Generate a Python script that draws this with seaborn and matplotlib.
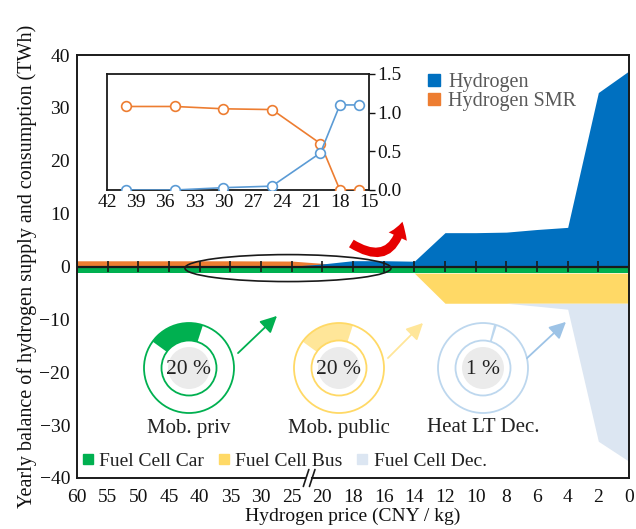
import numpy as np
import pandas as pd
import matplotlib
matplotlib.use("Agg")
import matplotlib.pyplot as plt
import seaborn as sns
from matplotlib.patches import Wedge, Circle, Ellipse, FancyArrowPatch
from matplotlib.lines import Line2D
import matplotlib.transforms as mtransforms

# ---------------- data ----------------
price_labels = ["60", "55", "50", "45", "40", "35", "30", "25", "20", "18",
                "16", "14", "12", "10", "8", "6", "4", "2", "0"]
hydrogen     = [0.0, 0.0, 0.0, 0.0, 0.0, 0.0, 0.03, 0.05, 0.48, 1.1,
                1.1, 1.0, 6.4, 6.4, 6.5, 7.0, 7.4, 32.9, 37.0]
hydrogen_smr = [1.08, 1.08, 1.08, 1.08, 1.08, 1.08, 1.05, 1.03, 0.6, 0.0,
                0.0, 0.0, 0.0, 0.0, 0.0, 0.0, 0.0, 0.0, 0.0]
fc_car = [1.25, 1.25, 1.25, 1.25, 1.25, 1.25, 1.25, 1.25, 1.25, 1.25,
          1.25, 1.25, 1.25, 1.25, 1.25, 1.25, 1.25, 1.25, 1.25]
fc_bus = [0.0, 0.0, 0.0, 0.0, 0.0, 0.0, 0.0, 0.0, 0.0, 0.0,
          0.0, 0.0, 5.7, 5.7, 5.7, 5.7, 5.7, 5.7, 5.7]
fc_dec = [0.0, 0.0, 0.0, 0.0, 0.0, 0.0, 0.0, 0.0, 0.0, 0.0,
          0.0, 0.0, 0.0, 0.0, 0.0, 0.55, 1.13, 26.1, 29.9]

inset_price = [40, 35, 30, 25, 20, 18, 16]
inset_h2    = [0.0, 0.0, 0.03, 0.05, 0.48, 1.10, 1.10]
inset_smr   = [1.08, 1.08, 1.05, 1.04, 0.60, 0.0, 0.0]
inset_xticks = [42, 39, 36, 33, 30, 27, 24, 21, 18, 15]

donut_names  = ["Mob. priv", "Mob. public", "Heat LT Dec."]
donut_shares = [20, 20, 1]

# ---------------- style ----------------
sns.set_theme(style="white")
plt.rcParams["font.family"] = ["Liberation Serif", "DejaVu Serif"]
plt.rcParams["axes.unicode_minus"] = True

C_H2 = "#0070c0"
C_SMR = "#ed7d31"
C_CAR = "#00b050"
C_BUS = "#ffd966"
C_DEC = "#dce6f2"
FS = 14

W, H = 636, 529
fig = plt.figure(figsize=(W / 100, H / 100), dpi=100)

def fx(px):
    return px / W

def fy(py):
    return 1 - py / H

ax = fig.add_axes([fx(77), fy(478), fx(629) - fx(77), fy(55) - fy(478)])

df = pd.DataFrame({
    "pos": np.arange(len(price_labels)),
    "hydrogen": hydrogen,
    "smr": hydrogen_smr,
    "car": fc_car,
    "bus": fc_bus,
    "dec": fc_dec,
})
x = df["pos"].values
car_low = -df["car"].values
bus_low = car_low - df["bus"].values
dec_low = bus_low - df["dec"].values

ax.fill_between(x, 0, df["smr"].values, color=C_SMR, lw=0)
ax.fill_between(x, 0, df["hydrogen"].values, color=C_H2, lw=0)
ax.fill_between(x, 0, car_low, color=C_CAR, lw=0)
ax.fill_between(x, car_low, bus_low, color=C_BUS, lw=0)
ax.fill_between(x, bus_low, dec_low, color=C_DEC, lw=0)

# zero axis with cross ticks
ax.axhline(0, color="#1a1a1a", lw=1.6, zorder=3)
ax.vlines(x, -0.95, 0.95, color="#1a1a1a", lw=1.2, zorder=3)

ax.set_xlim(0, len(price_labels) - 1)
ax.set_ylim(-40, 40)
ax.set_xticks(x)
ax.set_xticklabels(price_labels, fontsize=FS)
ax.set_yticks(np.arange(-40, 41, 10))
ax.tick_params(axis="both", length=0, labelsize=FS, colors="#111111")
ax.tick_params(axis="x", pad=8)
ax.tick_params(axis="y", pad=5)
for s in ax.spines.values():
    s.set_color("#1a1a1a")
    s.set_linewidth(1.4)
ax.set_xlabel("Hydrogen price (CNY / kg)", fontsize=FS, labelpad=1, color="#111111")
ax.set_ylabel("Yearly balance of hydrogen supply and consumption (TWh)",
              fontsize=14.5, labelpad=2, color="#111111")

# axis break marks
btr = mtransforms.blended_transform_factory(ax.transData, ax.transAxes)
ax.plot([7.52, 7.58], [0.0, 0.0], color="white", lw=3, transform=btr,
        clip_on=False, zorder=5)
for x0 in (7.38, 7.58):
    ax.plot([x0, x0 + 0.18], [-0.02, 0.02], color="#1a1a1a", lw=1.2,
            transform=btr, clip_on=False, zorder=6)

# ellipse highlight
ax.add_patch(Ellipse((6.88, -0.3), 6.72, 5.1, fill=False, ec="#1a1a1a",
                     lw=1.2, zorder=4))

# legends
h_top = [Line2D([], [], marker="s", ls="", color=C_H2, markersize=8),
         Line2D([], [], marker="s", ls="", color=C_SMR, markersize=8)]
leg1 = ax.legend(h_top, ["Hydrogen", "Hydrogen SMR"], loc="upper left",
                 bbox_to_anchor=(fx(426), fy(73)), bbox_transform=fig.transFigure,
                 frameon=False, fontsize=14.5, handletextpad=0.3, handlelength=0.8,
                 labelspacing=0.0, borderpad=0, borderaxespad=0,
                 labelcolor="#595959")
ax.add_artist(leg1)
h_bot = [Line2D([], [], marker="s", ls="", color=C_CAR, markersize=7),
         Line2D([], [], marker="s", ls="", color=C_BUS, markersize=7),
         Line2D([], [], marker="s", ls="", color=C_DEC, markersize=7)]
ax.legend(h_bot, ["Fuel Cell Car", "Fuel Cell Bus", "Fuel Cell Dec."],
          loc="center left", bbox_to_anchor=(fx(80), fy(461)),
          bbox_transform=fig.transFigure, frameon=False, fontsize=FS, ncol=3,
          handletextpad=0.2, handlelength=0.8, columnspacing=0.6,
          borderpad=0, borderaxespad=0, labelcolor="#222222")

# ---------------- inset ----------------
axi = fig.add_axes([fx(107), fy(190), fx(369) - fx(107), fy(74) - fy(190)])
sns.lineplot(x=inset_price, y=inset_smr, ax=axi, color="#ed7d31", marker="o",
             markersize=7, markerfacecolor="white", markeredgecolor="#ed7d31",
             markeredgewidth=1.2, lw=1.2, zorder=3)
sns.lineplot(x=inset_price, y=inset_h2, ax=axi, color="#5b9bd5", marker="o",
             markersize=7, markerfacecolor="white", markeredgecolor="#5b9bd5",
             markeredgewidth=1.2, lw=1.2, zorder=3)
axi.set_xlim(42, 15)
axi.set_ylim(0, 1.5)
axi.set_xticks(inset_xticks)
axi.set_yticks([0.0, 0.5, 1.0, 1.5])
axi.set_yticklabels(["0.0", "0.5", "1.0", "1.5"])
axi.yaxis.tick_right()
axi.tick_params(axis="x", direction="in", length=3, width=1, pad=3,
                labelsize=FS, colors="#111111")
axi.tick_params(axis="y", direction="out", length=4, width=1, pad=2,
                labelsize=FS, colors="#111111")
axi.set_facecolor("white")
for s in axi.spines.values():
    s.set_color("#1a1a1a")
    s.set_linewidth(1.3)
for lab in axi.get_xticklabels() + axi.get_yticklabels():
    lab.set_color("#111111")
for t in axi.xaxis.get_major_ticks() + axi.yaxis.get_major_ticks():
    t.tick1line.set_color("#1a1a1a")
    t.tick2line.set_color("#1a1a1a")

# ---------------- donuts ----------------
centers = [(189, 368), (339, 368), (483, 368)]
ring_colors = ["#00b050", "#ffd966", "#bdd7ee"]
wedge_colors = ["#00b050", "#ffe699", "#bdd7ee"]
arrow_colors = ["#00b050", "#ffe699", "#9dc3e6"]
arrows = [((236, 355), (279, 314)), ((386, 360), (425, 321)),
          ((525, 360), (568, 320))]
R = 52
for (cx, cy), share, name, rc, wc in zip(centers, donut_shares, donut_names,
                                          ring_colors, wedge_colors):
    dax = fig.add_axes([fx(cx - R), fy(cy + R), 2 * R / W, 2 * R / H])
    dax.set_xlim(-R, R)
    dax.set_ylim(-R, R)
    dax.axis("off")
    dax.add_patch(Wedge((0, 0), 45, 72, 72 + 360 * share / 100, width=17.5,
                        facecolor=wc, edgecolor="none"))
    dax.add_patch(Circle((0, 0), 45, fill=False, ec=rc, lw=1.3))
    dax.add_patch(Circle((0, 0), 27.5, fill=False, ec=rc, lw=1.3))
    dax.add_patch(Circle((0, 0), 21, fc="#ebebeb", ec="none"))
    dax.text(0, -1, f"{share} %", ha="center", va="center", fontsize=15.5,
             color="#222222")
    fig.text(fx(cx), fy(428), name, ha="center", va="center", fontsize=15,
             color="#222222")

for ((x0, y0), (x1, y1)), col in zip(arrows, arrow_colors):
    fig.add_artist(FancyArrowPatch((fx(x0), fy(y0)), (fx(x1), fy(y1)),
                                   transform=fig.transFigure,
                                   arrowstyle="-|>,head_length=0.5,head_width=0.25",
                                   mutation_scale=20, color=col, lw=1.3))

# red curved arrow
fig.add_artist(FancyArrowPatch((fx(349), fy(242)), (fx(403), fy(219)),
                               transform=fig.transFigure,
                               connectionstyle="arc3,rad=0.75",
                               arrowstyle="simple,head_length=0.7,head_width=0.9,tail_width=0.4",
                               mutation_scale=16, color="#e60000", lw=0))

fig.savefig("out.png", dpi=100)
